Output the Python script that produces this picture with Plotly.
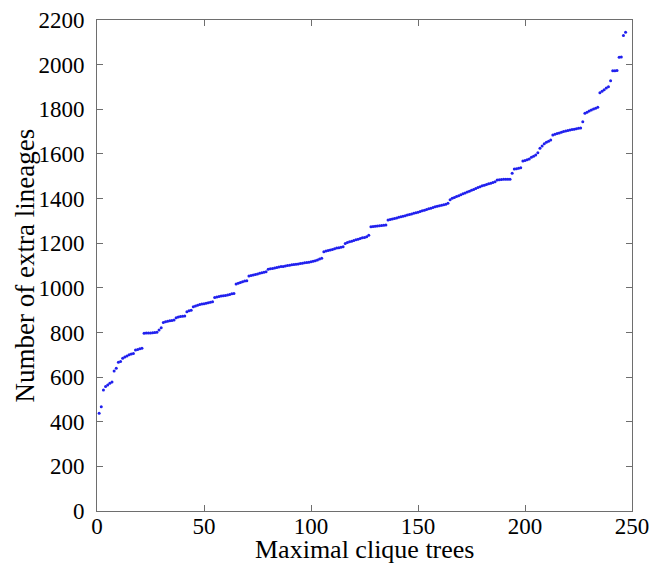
import plotly.graph_objects as go

tree_index = list(range(1, 248))
extra_lineages = [
    438, 467, 542, 558, 565, 572, 578, 627, 640, 667,
    670, 684, 690, 695, 700, 703, 706, 721, 724, 727,
    729, 796, 797, 797, 798, 799, 800, 801, 811, 821,
    845, 848, 850, 852, 854, 856, 866, 869, 871, 873,
    874, 893, 897, 900, 915, 919, 922, 925, 927, 929,
    931, 933, 935, 938, 957, 959, 961, 963, 965, 966,
    968, 970, 973, 975, 1017, 1021, 1024, 1027, 1030, 1032,
    1053, 1055, 1057, 1060, 1062, 1065, 1067, 1070, 1072, 1083,
    1085, 1087, 1089, 1091, 1093, 1095, 1096, 1098, 1100, 1101,
    1103, 1104, 1106, 1107, 1109, 1110, 1112, 1113, 1115, 1117,
    1119, 1121, 1125, 1129, 1132, 1162, 1165, 1167, 1169, 1172,
    1175, 1178, 1180, 1182, 1184, 1199, 1203, 1206, 1209, 1212,
    1215, 1218, 1221, 1224, 1226, 1229, 1236, 1274, 1275, 1276,
    1277, 1278, 1279, 1280, 1281, 1304, 1306, 1308, 1311, 1313,
    1316, 1318, 1321, 1323, 1326, 1328, 1331, 1334, 1336, 1339,
    1342, 1345, 1348, 1351, 1354, 1357, 1360, 1363, 1366, 1368,
    1370, 1372, 1375, 1379, 1395, 1401, 1405, 1409, 1413, 1417,
    1421, 1425, 1429, 1433, 1437, 1441, 1445, 1449, 1453, 1457,
    1460, 1463, 1466, 1469, 1472, 1475, 1483, 1484, 1485, 1486,
    1486, 1487, 1487, 1513, 1532, 1534, 1536, 1538, 1568, 1571,
    1574, 1577, 1585, 1590, 1595, 1605, 1625, 1635, 1645, 1652,
    1657, 1662, 1685, 1688, 1691, 1694, 1697, 1700, 1703, 1705,
    1707, 1709, 1711, 1713, 1715, 1716, 1744, 1782, 1787, 1792,
    1797, 1801, 1805, 1809, 1874, 1881, 1888, 1895, 1901, 1928,
    1973, 1973, 1974, 2033, 2034, 2130, 2145,
]

x_ticks = [0, 50, 100, 150, 200, 250]
y_ticks = [0, 200, 400, 600, 800, 1000, 1200, 1400, 1600, 1800, 2000, 2200]
x_title = "Maximal clique trees"
y_title = "Number of extra lineages"

font_family = "Liberation Serif"

fig = go.Figure()
fig.add_trace(go.Scatter(
    x=tree_index, y=extra_lineages, mode="markers",
    marker=dict(size=3, color="#2020ee", line=dict(width=0)),
    showlegend=False,
))

axis_common = dict(
    showline=True, linecolor="#6e6e6e", linewidth=1, mirror="ticks",
    ticks="inside", ticklen=6, tickcolor="#6e6e6e",
    showgrid=False, zeroline=False, automargin=False,
    ticklabeloverflow="allow",
    tickfont=dict(family=font_family, size=23, color="black"),
)

fig.update_layout(
    width=651, height=556,
    margin=dict(l=89, r=27, t=12, b=53),
    paper_bgcolor="white", plot_bgcolor="white",
    xaxis=dict(range=[0, 250], tickvals=x_ticks, ticklabelstandoff=-6, **axis_common),
    yaxis=dict(range=[0, 2200], tickvals=y_ticks, ticklabelstandoff=7, **axis_common),
    annotations=[
        dict(text=x_title, xref="paper", yref="paper", x=0.5, y=0,
             xanchor="center", yanchor="middle", yshift=-38, showarrow=False,
             font=dict(family=font_family, size=26, color="black")),
        dict(text=y_title, xref="paper", yref="paper", x=0, y=0.5,
             xanchor="center", yanchor="middle", xshift=-73, textangle=-90,
             showarrow=False,
             font=dict(family=font_family, size=27, color="black")),
    ],
)

fig.write_html("out.html")
